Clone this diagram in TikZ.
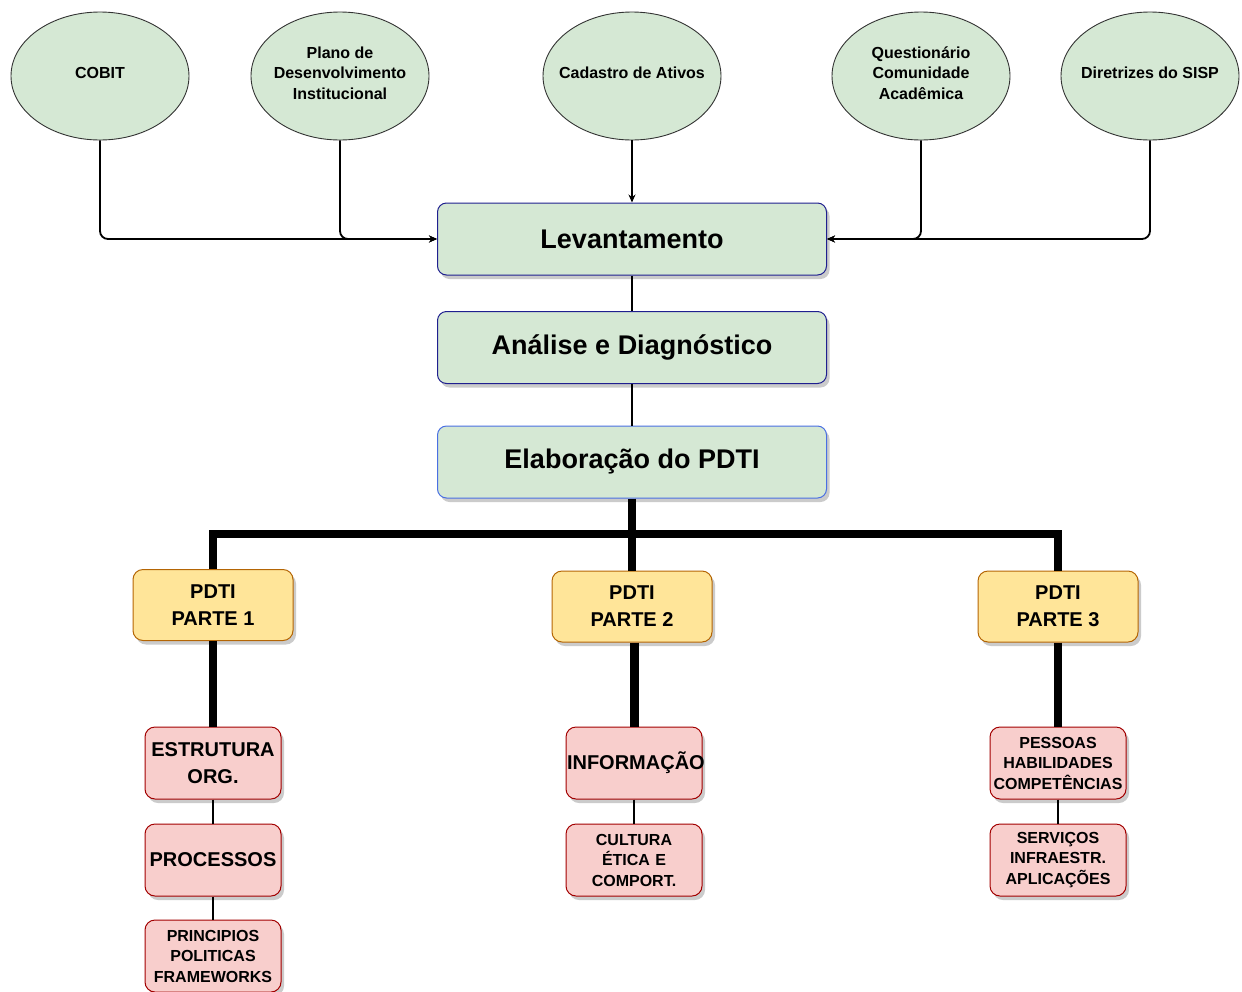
\documentclass[tikz,border=0pt]{standalone}
\usepackage{fontspec}
\setmainfont{Liberation Sans}
\usetikzlibrary{arrows.meta,shadows,shapes.geometric}
\definecolor{greenfill}{HTML}{D5E8D4}
\definecolor{yellowfill}{HTML}{FFE599}
\definecolor{yellowline}{HTML}{B46504}
\definecolor{redfill}{HTML}{F8CECC}
\definecolor{redline}{HTML}{A20000}
\definecolor{navyline}{HTML}{1F1F8F}
\definecolor{blueline}{HTML}{4A6FE3}
\definecolor{shadowgray}{HTML}{CBCBCB}

\begin{document}
\begin{tikzpicture}[x=1pt,y=-1pt,
  source/.style={ellipse, draw=black!80, line width=0.9pt, fill=greenfill,
    minimum width=178pt, minimum height=128pt, inner sep=0pt,
    label={[align=center, yshift=3pt, font=\fontsize{16}{20.5}\selectfont\bfseries]center:#1}},
  boxshadow/.style={drop shadow={shadow xshift=3pt, shadow yshift=-4pt, fill=shadowgray, opacity=1}},
  phase/.style={rectangle, rounded corners=9pt, draw=navyline, line width=1pt, fill=greenfill,
    minimum width=389pt, minimum height=72pt, font=\fontsize{27}{32}\selectfont\bfseries, boxshadow},
  part/.style={rectangle, rounded corners=10pt, draw=yellowline, line width=1pt, fill=yellowfill,
    minimum width=160pt, minimum height=71pt, align=center,
    font=\fontsize{20}{27}\selectfont\bfseries, boxshadow},
  topic/.style={rectangle, rounded corners=10pt, draw=redline, line width=1pt, fill=redfill,
    minimum width=136pt, minimum height=72pt, inner xsep=1pt, inner ysep=0pt,
    text width=134pt, align=center, boxshadow},
  bigtopic/.style={topic, font=\fontsize{20}{27}\selectfont\bfseries},
  smalltopic/.style={topic, font=\fontsize{16}{20.5}\selectfont\bfseries},
  feed/.style={line width=1.8pt, rounded corners=8pt, -{Stealth[length=8pt,width=7pt]}},
  thinlink/.style={line width=1.8pt},
  heavylink/.style={line width=8pt, line join=miter},
]
\useasboundingbox (0,0) rectangle (1242,991);

% sources
\node[source={COBIT}] (cobit) at (100,76) {};
\node[source={Plano de\\Desenvolvimento\\Institucional}] (plano) at (340,76) {};
\node[source={Cadastro de Ativos}] (cadastro) at (632,76) {};
\node[source={Questionário\\Comunidade\\Acadêmica}] (quest) at (921,76) {};
\node[source={Diretrizes do SISP}] (dir) at (1150,76) {};

% phases
\node[phase] (lev)  at (632,239)   {Levantamento};
\node[phase] (ana)  at (632,347.5) {Análise e Diagnóstico};
\node[phase, draw=blueline] (elab) at (632,462) {Elaboração do PDTI};

% parts
\node[part] (p1) at (213,605)   {PDTI\\PARTE 1};
\node[part] (p2) at (632,606.5) {PDTI\\PARTE 2};
\node[part] (p3) at (1058,606.5) {PDTI\\PARTE 3};

% topics
\node[bigtopic]   (estr)  at (213,763) {ESTRUTURA\\ORG.};
\node[bigtopic]   (proc)  at (213,860) {PROCESSOS};
\node[smalltopic] (princ) at (213,956) {PRINCIPIOS\\POLITICAS\\FRAMEWORKS};
\node[bigtopic]   (info)  at (634,763) {INFORMAÇÃO};
\node[smalltopic] (cult)  at (634,860) {CULTURA\\ÉTICA E\\COMPORT.};
\node[smalltopic] (pess)  at (1058,763) {PESSOAS\\HABILIDADES\\COMPETÊNCIAS};
\node[smalltopic] (serv)  at (1058,860) {SERVIÇOS\\INFRAESTR.\\APLICAÇÕES};

% inputs into the survey phase
\draw[feed] (cobit.south) |- (lev.west);
\draw[feed] (plano.south) |- (lev.west);
\draw[feed] (cadastro.south) -- (lev.north);
\draw[feed] (quest.south) |- (lev.east);
\draw[feed] (dir.south) |- (lev.east);

% phase sequence
\draw[thinlink] (lev.south) -- (ana.north);
\draw[thinlink] (ana.south) -- (elab.north);

% distribution bus
\coordinate (bus) at (632,534);
\draw[heavylink] (elab.south) -- (bus);
\draw[heavylink] (p1.north) |- (bus) -| (p3.north);
\draw[heavylink] (bus) -- (p2.north);

% parts to topics
\draw[heavylink] (p1.south) -- (estr.north);
\draw[heavylink, line width=9pt] (p2.south -| info.north) -- (info.north);
\draw[heavylink] (p3.south) -- (pess.north);

\draw[thinlink] (estr.south) -- (proc.north);
\draw[thinlink] (proc.south) -- (princ.north);
\draw[thinlink] (info.south) -- (cult.north);
\draw[thinlink] (pess.south) -- (serv.north);
\end{tikzpicture}
\end{document}
